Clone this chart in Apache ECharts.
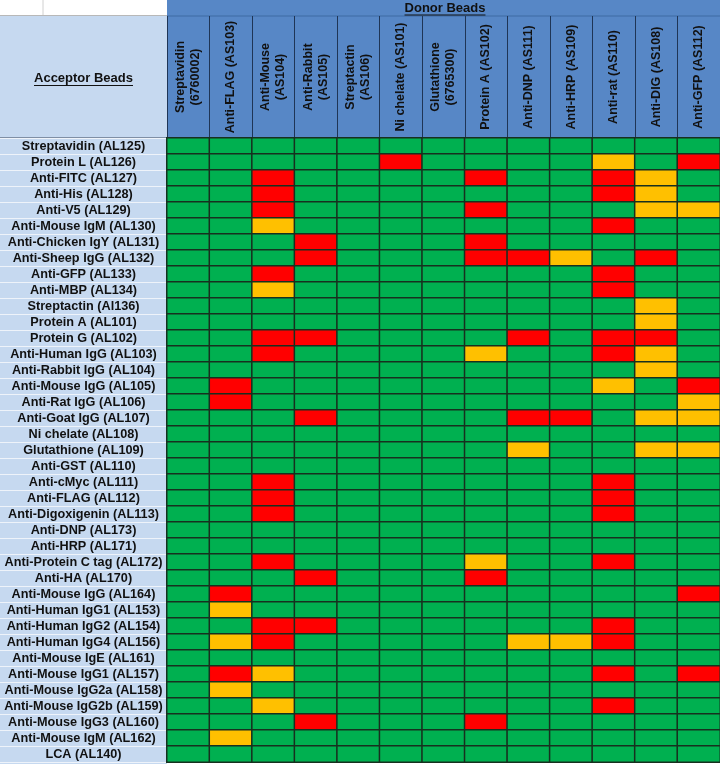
<!DOCTYPE html>
<html>
<head>
<meta charset="utf-8">
<script src="https://cdn.jsdelivr.net/npm/echarts@6/dist/echarts.min.js"></script>
<style>html,body{margin:0;padding:0;background:#fff}#c{width:720px;height:764px}</style>
</head>
<body>
<div id="c"></div>
<script>
const donors = ['Streptavidin\n(6760002)', 'Anti-FLAG (AS103)', 'Anti-Mouse\n(AS104)', 'Anti-Rabbit\n(AS105)', 'Streptactin\n(AS106)', 'Ni chelate (AS101)', 'Glutathione\n(6765300)', 'Protein A (AS102)', 'Anti-DNP (AS111)', 'Anti-HRP (AS109)', 'Anti-rat (AS110)', 'Anti-DIG (AS108)', 'Anti-GFP (AS112)'];
const acceptors = ['Streptavidin (AL125)', 'Protein L (AL126)', 'Anti-FITC (AL127)', 'Anti-His (AL128)', 'Anti-V5 (AL129)', 'Anti-Mouse IgM (AL130)', 'Anti-Chicken IgY (AL131)', 'Anti-Sheep IgG (AL132)', 'Anti-GFP (AL133)', 'Anti-MBP (AL134)', 'Streptactin (Al136)', 'Protein A (AL101)', 'Protein G (AL102)', 'Anti-Human IgG (AL103)', 'Anti-Rabbit IgG (AL104)', 'Anti-Mouse IgG (AL105)', 'Anti-Rat IgG (AL106)', 'Anti-Goat IgG (AL107)', 'Ni chelate (AL108)', 'Glutathione (AL109)', 'Anti-GST (AL110)', 'Anti-cMyc (AL111)', 'Anti-FLAG (AL112)', 'Anti-Digoxigenin (AL113)', 'Anti-DNP (AL173)', 'Anti-HRP (AL171)', 'Anti-Protein C tag (AL172)', 'Anti-HA (AL170)', 'Anti-Mouse IgG (AL164)', 'Anti-Human IgG1 (AL153)', 'Anti-Human IgG2 (AL154)', 'Anti-Human IgG4 (AL156)', 'Anti-Mouse IgE (AL161)', 'Anti-Mouse IgG1 (AL157)', 'Anti-Mouse IgG2a (AL158)', 'Anti-Mouse IgG2b (AL159)', 'Anti-Mouse IgG3 (AL160)', 'Anti-Mouse IgM (AL162)', 'LCA (AL140)'];
// 0 = green, 1 = yellow, 2 = red
const cellStatus = [
  [0,0,0,0,0,0,0,0,0,0,0,0,0],
  [0,0,0,0,0,2,0,0,0,0,1,0,2],
  [0,0,2,0,0,0,0,2,0,0,2,1,0],
  [0,0,2,0,0,0,0,0,0,0,2,1,0],
  [0,0,2,0,0,0,0,2,0,0,0,1,1],
  [0,0,1,0,0,0,0,0,0,0,2,0,0],
  [0,0,0,2,0,0,0,2,0,0,0,0,0],
  [0,0,0,2,0,0,0,2,2,1,0,2,0],
  [0,0,2,0,0,0,0,0,0,0,2,0,0],
  [0,0,1,0,0,0,0,0,0,0,2,0,0],
  [0,0,0,0,0,0,0,0,0,0,0,1,0],
  [0,0,0,0,0,0,0,0,0,0,0,1,0],
  [0,0,2,2,0,0,0,0,2,0,2,2,0],
  [0,0,2,0,0,0,0,1,0,0,2,1,0],
  [0,0,0,0,0,0,0,0,0,0,0,1,0],
  [0,2,0,0,0,0,0,0,0,0,1,0,2],
  [0,2,0,0,0,0,0,0,0,0,0,0,1],
  [0,0,0,2,0,0,0,0,2,2,0,1,1],
  [0,0,0,0,0,0,0,0,0,0,0,0,0],
  [0,0,0,0,0,0,0,0,1,0,0,1,1],
  [0,0,0,0,0,0,0,0,0,0,0,0,0],
  [0,0,2,0,0,0,0,0,0,0,2,0,0],
  [0,0,2,0,0,0,0,0,0,0,2,0,0],
  [0,0,2,0,0,0,0,0,0,0,2,0,0],
  [0,0,0,0,0,0,0,0,0,0,0,0,0],
  [0,0,0,0,0,0,0,0,0,0,0,0,0],
  [0,0,2,0,0,0,0,1,0,0,2,0,0],
  [0,0,0,2,0,0,0,2,0,0,0,0,0],
  [0,2,0,0,0,0,0,0,0,0,0,0,2],
  [0,1,0,0,0,0,0,0,0,0,0,0,0],
  [0,0,2,2,0,0,0,0,0,0,2,0,0],
  [0,1,2,0,0,0,0,0,1,1,2,0,0],
  [0,0,0,0,0,0,0,0,0,0,0,0,0],
  [0,2,1,0,0,0,0,0,0,0,2,0,2],
  [0,1,0,0,0,0,0,0,0,0,0,0,0],
  [0,0,1,0,0,0,0,0,0,0,2,0,0],
  [0,0,0,2,0,0,0,2,0,0,0,0,0],
  [0,1,0,0,0,0,0,0,0,0,0,0,0],
  [0,0,0,0,0,0,0,0,0,0,0,0,0]
];
const statusColors = ['#00B050', '#FFC000', '#FF0000'];
const donorTitle = 'Donor Beads';
const acceptorTitle = 'Acceptor Beads';

const FONT = "'Liberation Sans', Arial, sans-serif";
const data = [];
cellStatus.forEach((row, r) => row.forEach((v, c) => data.push([c, r, v])));

function textWidth(t, size) {
  const ctx = document.createElement('canvas').getContext('2d');
  ctx.font = 'bold ' + size + 'px ' + FONT;
  return ctx.measureText(t).width;
}

const L = 167, T = 138, W = 557, H = 624;
const HDR = '#5787C6', LIGHT = '#C6D9F0';
const accW = textWidth(acceptorTitle, 13), donW = textWidth(donorTitle, 13);

const chart = echarts.init(document.getElementById('c'), null, {renderer: 'canvas'});
chart.setOption({
  animation: false,
  backgroundColor: '#ffffff',
  grid: {left: L, top: T, width: W, height: H, containLabel: false},
  xAxis: {
    type: 'category', data: donors, position: 'top',
    axisLine: {show: true, lineStyle: {color: '#1f3556', width: 1}},
    axisTick: {show: true, length: 122, interval: 0, lineStyle: {color: '#1f3556', width: 1}},
    splitLine: {show: false},
    axisLabel: {
      interval: 0, rotate: -90, margin: 61, align: 'center', verticalAlign: 'middle',
      color: '#111', fontWeight: 'bold', fontSize: 12.5, fontFamily: FONT, lineHeight: 15,
      hideOverlap: false
    }
  },
  yAxis: {
    type: 'category', data: acceptors, inverse: true,
    axisLine: {show: true, lineStyle: {color: '#2a3a4a', width: 1}},
    axisTick: {show: true, length: L, interval: 0, lineStyle: {color: '#eef3fa', width: 1}},
    splitLine: {show: false},
    axisLabel: {
      interval: 0, margin: L / 2, align: 'center', verticalAlign: 'middle',
      color: '#111', fontWeight: 'bold', fontSize: 12.7, fontFamily: FONT, hideOverlap: false
    }
  },
  visualMap: {
    show: false, type: 'piecewise', dimension: 2,
    pieces: statusColors.map((c, i) => ({value: i, color: c}))
  },
  series: [{
    type: 'heatmap', data: data,
    itemStyle: {borderColor: '#17301f', borderWidth: 1.5},
    emphasis: {disabled: true}
  }],
  graphic: [
    {type: 'rect', z: -10, shape: {x: 0, y: 0, width: L, height: 16}, style: {fill: '#ffffff'}},
    {type: 'line', z: -9, shape: {x1: 43, y1: 0, x2: 43, y2: 16}, style: {stroke: '#d0d0d0', lineWidth: 1}},
    {type: 'line', z: -9, shape: {x1: 0, y1: 15.5, x2: L, y2: 15.5}, style: {stroke: '#b8b8b8', lineWidth: 1}},
    {type: 'rect', z: -10, shape: {x: L, y: 0, width: 720 - L, height: T}, style: {fill: HDR}},
    {type: 'line', z: -9, shape: {x1: L, y1: 16, x2: 720, y2: 16}, style: {stroke: '#3f6aa3', lineWidth: 1}},
    {type: 'rect', z: -10, shape: {x: 0, y: 16, width: L, height: T - 16}, style: {fill: LIGHT}},
    {type: 'rect', z: -10, shape: {x: 0, y: T, width: L, height: 764 - T}, style: {fill: LIGHT}},
    {type: 'line', z: -9, shape: {x1: 0, y1: T - 0.5, x2: L, y2: T - 0.5}, style: {stroke: '#7f8fa5', lineWidth: 1}},
    {type: 'text', z: 10, style: {text: acceptorTitle, x: L / 2, y: 78, align: 'center', verticalAlign: 'middle', font: 'bold 13px ' + FONT, fill: '#111'}},
    {type: 'line', z: 10, shape: {x1: L / 2 - accW / 2, y1: 85.5, x2: L / 2 + accW / 2, y2: 85.5}, style: {stroke: '#111', lineWidth: 1}},
    {type: 'text', z: 10, style: {text: donorTitle, x: 445, y: 8, align: 'center', verticalAlign: 'middle', font: 'bold 13px ' + FONT, fill: '#111'}},
    {type: 'line', z: 10, shape: {x1: 445 - donW / 2, y1: 15, x2: 445 + donW / 2, y2: 15}, style: {stroke: '#111', lineWidth: 1}}
  ]
});
</script>
</body>
</html>
